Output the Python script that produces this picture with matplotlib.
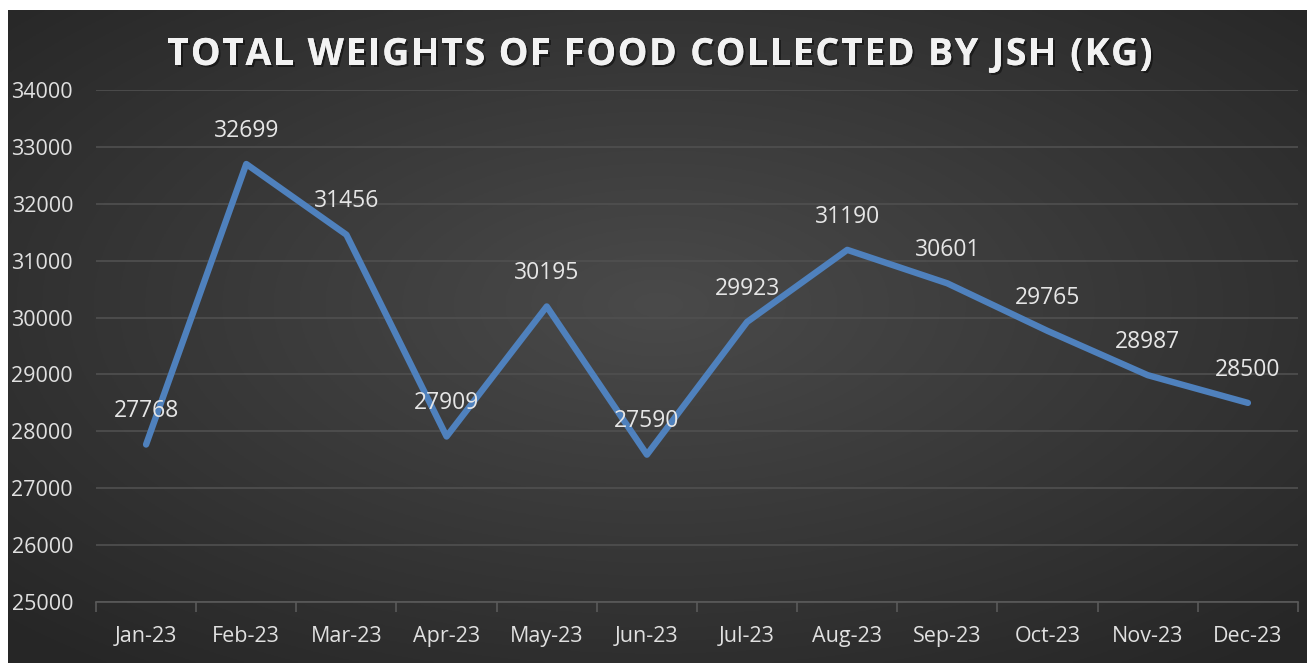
import numpy as np
import matplotlib
matplotlib.use("Agg")
import matplotlib.pyplot as plt
import matplotlib.patheffects as pe

months = ["Jan-23", "Feb-23", "Mar-23", "Apr-23", "May-23", "Jun-23",
          "Jul-23", "Aug-23", "Sep-23", "Oct-23", "Nov-23", "Dec-23"]
weights = [27768, 32699, 31456, 27909, 30195, 27590,
           29923, 31190, 30601, 29765, 28987, 28500]
y_ticks = [25000, 26000, 27000, 28000, 29000, 30000, 31000, 32000, 33000, 34000]
title = "TOTAL WEIGHTS OF FOOD COLLECTED BY JSH (KG)"

plt.rcParams["font.family"] = ["Open Sans", "DejaVu Sans"]

W, H = 1307, 663
fig = plt.figure(figsize=(W / 100, H / 100), dpi=100)
fig.patch.set_facecolor("white")

# dark radial gradient background (chart area sits a bit in from top/left)
bg = fig.add_axes([8 / W, 0, 1 - 8 / W, 1 - 10 / H])
bg.set_axis_off()
h, w = 300, 600
yy, xx = np.mgrid[0:h, 0:w]
r = np.sqrt(((xx - w / 2) / (w / 2)) ** 2 + ((yy - h * 0.45) / (h / 2)) ** 2) / np.sqrt(2)
r = np.clip(r, 0, 1)
c0, c1 = np.array([0.29, 0.29, 0.29]), np.array([0.15, 0.15, 0.15])
img = c0[None, None, :] * (1 - r[..., None]) + c1[None, None, :] * r[..., None]
bg.imshow(img, aspect="auto", extent=[0, 1, 0, 1])
bg.set_xlim(0, 1)
bg.set_ylim(0, 1)

ax = fig.add_axes([96 / W, 1 - 602 / H, (1298 - 96) / W, (602 - 90) / H])
ax.set_facecolor("none")
x = np.arange(len(months))
ax.plot(x, weights, color="#4F81BD", linewidth=4.6,
        solid_capstyle="round", solid_joinstyle="round", zorder=3)

for xi, v in zip(x, weights):
    ax.annotate(str(v), (xi, v), xytext=(0, 24), textcoords="offset points",
                ha="center", va="center", color="#e6e6e6", fontsize=16.5, zorder=4)

ax.set_xlim(-0.5, len(months) - 0.5)
ax.set_ylim(25000, 34000)
ax.set_yticks(y_ticks)
ax.set_yticklabels([str(t) for t in y_ticks], color="#e0e0e0", fontsize=15.5)
ax.set_xticks(x)
ax.set_xticklabels(months, color="#e0e0e0", fontsize=15.5)
ax.tick_params(axis="y", length=0, pad=16.5)
ax.tick_params(axis="x", length=0, pad=17)
# category boundary tick marks
ax.set_xticks(np.arange(-0.5, len(months), 1), minor=True)
ax.tick_params(axis="x", which="minor", length=7, color="#5a5a5a", width=1.2)
ax.yaxis.grid(True, color="#505050", linewidth=1.2)
ax.set_axisbelow(True)
for s in ["top", "right", "left"]:
    ax.spines[s].set_visible(False)
ax.spines["bottom"].set_color("#5a5a5a")
ax.spines["bottom"].set_linewidth(1.2)

# title with letter spacing, drawn char by char
renderer = fig.canvas.get_renderer()
tkw = dict(color="#f2f2f2", fontsize=27, fontweight="bold", va="center", ha="left",
           path_effects=[pe.withSimplePatchShadow(offset=(1.5, -1.5), shadow_rgbFace="black", alpha=0.45),
                         pe.Normal()])
spacing = 1.6
widths = []
for ch in title:
    t = fig.text(0, 0, ch if ch != " " else "a", **tkw)
    bb = t.get_window_extent(renderer)
    widths.append(bb.width * (0.45 if ch == " " else 1.0))
    t.remove()
total = sum(widths) + spacing * (len(title) - 1)
cx = (167 + 1153) / 2 - total / 2
ty = 1 - 55 / H
for ch, wd in zip(title, widths):
    if ch != " ":
        fig.text(cx / W, ty, ch, **tkw)
    cx += wd + spacing

fig.savefig("out.png", dpi=100)
